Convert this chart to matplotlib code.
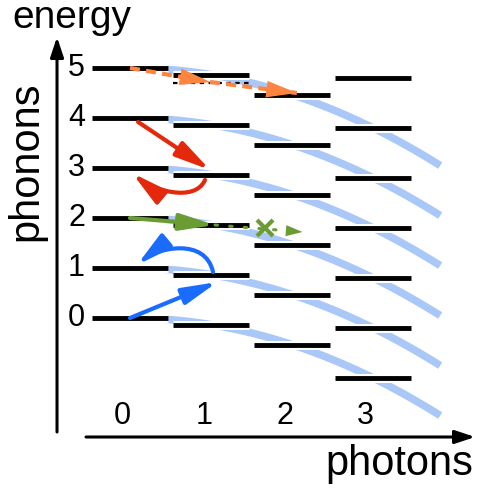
import numpy as np
import matplotlib
matplotlib.use("Agg")
import matplotlib.pyplot as plt
from matplotlib.patches import FancyArrowPatch
from matplotlib.path import Path
import matplotlib.patheffects as pe

plt.rcParams['font.family'] = ['Liberation Sans', 'DejaVu Sans']

# ---- data (photon number n, energy E in phonon units) ----
photons = [0, 1, 2, 3]
levels_per_column = [6, 6, 6, 7]
phonon_labels = ['0', '1', '2', '3', '4', '5']
photon_labels = ['0', '1', '2', '3']
chi = 0.133            # dispersive shift per photon^2
curve_phonons = [0, 1, 2, 3, 4, 5]
curve_n_range = (-0.1, 3.83)

# transitions: [(n start, E start), (n end, E end)]
blue_up = [(0.0, 0.0), (1.08, 0.72)]
green_fwd = [(0.0, 2.0), (1.05, 1.86)]
green_blocked = [(1.05, 1.86), (2.13, 1.72)]
green_cross = (1.67, 1.80)
red_down = [(0.10, 3.92), (0.99, 2.96)]
orange_n = [0.0, 0.99, 2.06]
orange_E = [5.0, 4.72, 4.50]
virtual_level = (1, 4.70)
# curved relaxation arrows: start, two bezier handles, tip
blue_back = [(1.025, 0.92), (0.93, 1.62), (0.34, 1.40), (0.086, 1.06)]
red_back = [(0.926, 2.76), (0.80, 2.30), (0.28, 2.56), (0.025, 2.90)]

# colours
c_curve = '#a9c8f7'
c_blue = '#1a6cff'
c_green = '#6b9c34'
c_red = '#e4280c'
c_orange = '#ff8440'

HEAD = '-|>,head_length=2.1,head_width=0.5'


def main():
    fig = plt.figure(figsize=(4.79, 4.91), dpi=100)
    ax = fig.add_axes([0, 0, 1, 1])
    ax.set_xlim(-1.605, 4.309)
    ax.set_ylim(-3.46, 6.36)
    ax.axis('off')

    # dispersion curves
    n = np.linspace(curve_n_range[0], curve_n_range[1], 200)
    for m in curve_phonons:
        ax.plot(n, m - chi * n ** 2, color=c_curve, lw=5.5,
                solid_capstyle='butt', zorder=1)

    # energy levels
    half = 0.465
    for p, cnt in zip(photons, levels_per_column):
        for m in range(cnt):
            e = m - chi * p ** 2
            ax.plot([p - half, p + half], [e, e], color='black', lw=3.5,
                    solid_capstyle='butt', zorder=2,
                    path_effects=[pe.Stroke(linewidth=6.5, foreground='white'),
                                  pe.Normal()])

    # virtual level
    vn, ve = virtual_level
    ax.plot([vn - half, vn + half], [ve, ve], color='black', lw=1.6,
            dashes=(2, 2), zorder=2)

    def arrow(pts, color):
        a = FancyArrowPatch(pts[0], pts[1], arrowstyle=HEAD,
                            mutation_scale=10, color=color, lw=3,
                            shrinkA=0, shrinkB=0, zorder=4)
        ax.add_patch(a)

    def curved(pts, color):
        path = Path(pts, [Path.MOVETO, Path.CURVE4, Path.CURVE4, Path.CURVE4])
        a = FancyArrowPatch(path=path, arrowstyle=HEAD, mutation_scale=10,
                            color=color, lw=3, zorder=4)
        ax.add_patch(a)

    def head(p0, p1, color, style=HEAD):
        s = (p1[0] - 0.02 * (p1[0] - p0[0]), p1[1] - 0.02 * (p1[1] - p0[1]))
        ax.add_patch(FancyArrowPatch(s, p1, arrowstyle=style,
                                     mutation_scale=10, color=color, lw=0,
                                     shrinkA=0, shrinkB=0, zorder=4))

    arrow(blue_up, c_blue)
    curved(blue_back, c_blue)
    arrow(green_fwd, c_green)
    arrow(red_down, c_red)
    curved(red_back, c_red)

    # blocked green transition
    gx = [green_blocked[0][0], green_blocked[1][0]]
    gy = [green_blocked[0][1], green_blocked[1][1]]
    ax.plot(gx, gy, color=c_green, lw=2.2, dashes=(0.8, 4),
            dash_capstyle='round', zorder=4)
    head(green_blocked[0], green_blocked[1], c_green,
         '-|>,head_length=1.2,head_width=0.4')
    ax.plot(*green_cross, marker='x', color=c_green, ms=11, mew=3, zorder=5)

    # orange dashed transition with two heads
    ax.plot(orange_n, orange_E, color=c_orange, lw=3, dashes=(2.4, 1.5),
            zorder=4)
    for i in (1, 2):
        head((orange_n[i - 1], orange_E[i - 1]), (orange_n[i], orange_E[i]),
             c_orange, '-|>,head_length=2.2,head_width=0.6')

    # axes arrows
    ax.add_patch(FancyArrowPatch((-0.901, -2.28), (-0.901, 5.62),
                                 arrowstyle='-|>,head_length=1.2,head_width=0.4',
                                 mutation_scale=10, color='black', lw=2.2,
                                 shrinkA=0, shrinkB=0, zorder=3))
    ax.add_patch(FancyArrowPatch((-0.543, -2.38), (4.26, -2.38),
                                 arrowstyle='-|>,head_length=1.2,head_width=0.4',
                                 mutation_scale=10, color='black', lw=2.2,
                                 shrinkA=0, shrinkB=0, zorder=3))

    # tick labels
    for m, lab in enumerate(phonon_labels):
        ax.text(-0.66, m, lab, fontsize=22, ha='center', va='center')
    for p, lab in zip(photons, photon_labels):
        ax.text(p - 0.09, -1.95, lab, fontsize=22, ha='center', va='center')

    ax.text(-1.45, 5.80, 'energy', fontsize=28, ha='left', va='baseline')
    ax.text(-1.28, 3.14, 'phonons', fontsize=30, rotation=90,
            ha='center', va='center')
    ax.text(3.32, -3.14, 'photons', fontsize=30, ha='center', va='baseline')

    fig.savefig('out.png', dpi=100)


if __name__ == "__main__":
    main()
